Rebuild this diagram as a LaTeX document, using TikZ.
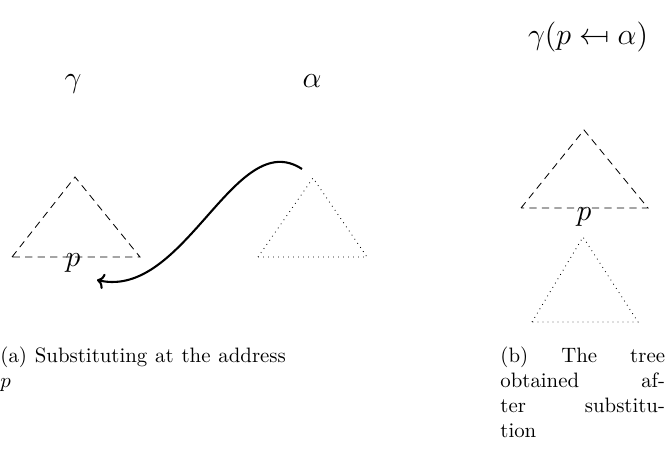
\documentclass[tikz,border=0pt]{standalone}
\usepackage{amssymb}
\usepackage{stmaryrd}
\usetikzlibrary{arrows.meta}
\begin{document}
\begin{tikzpicture}[x=0.48pt,y=-0.48pt,
  lbl/.style={inner sep=0pt, font=\Large},
  dtri/.style={draw, line width=0.4pt, dash pattern=on 3.5pt off 2.5pt},
  ptri/.style={draw, line width=0.4pt, dotted},
  subst/.style={-{To[length=3.5pt,width=7.5pt]}, line width=1pt},
  captxt/.style={inner sep=0pt, anchor=base west, align=left}]
\useasboundingbox (0,0) rectangle (665,455);
% labels
\node[lbl, anchor=base] (g) at (73,88) {$\gamma$};
\node[lbl, anchor=base] (a) at (312,88) {$\alpha$};
\node[lbl, anchor=base] (res) at (588,45) {$\gamma(p \mapsfrom \alpha)$};
% left dashed triangle (gamma)
\coordinate (gT) at (75,177);
\coordinate (gL) at (12,257);
\coordinate (gR) at (140,257);
\path[dtri] (gL) -- (gT) -- (gR) -- cycle;
\node[lbl] (pA) at (73,263) {$p$};
% alpha dotted triangle
\coordinate (aT) at (313,178);
\coordinate (aL) at (258,257);
\coordinate (aR) at (367,257);
\path[ptri] (aL) -- (aT) -- (aR) -- cycle;
% substitution arrow
\coordinate (src) at (302,169);
\coordinate (dst) at (97,280);
\draw[subst] (src) .. controls (235,125) and (185,300) .. (dst);
% result: dashed triangle
\coordinate (rT) at (584,130);
\coordinate (rL) at (521,208);
\coordinate (rR) at (648,208);
\path[dtri] (rL) -- (rT) -- (rR) -- cycle;
\node[lbl] (pB) at (584,217) {$p$};
% result: dotted triangle
\coordinate (sT) at (583,237);
\coordinate (sL) at (532,322);
\coordinate (sR) at (638,322);
\path[ptri] (sL) -- (sT) -- (sR) -- cycle;
% captions
\node[captxt] (capa) at (0,387) {\makebox[137pt][s]{(a) Substituting at the address}\\ $p$};
\node[captxt] (capb) at (500,437) {\makebox[79pt][s]{(b) The tree}\\
  \makebox[79pt][s]{obtained af-}\\
  \makebox[79pt][s]{ter substitu-}\\
  tion};
\end{tikzpicture}
\end{document}
